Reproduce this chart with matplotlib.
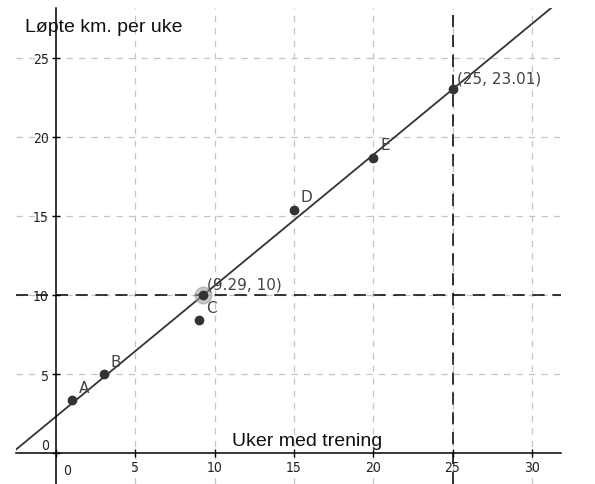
import matplotlib
matplotlib.use("Agg")
import matplotlib.pyplot as plt
import numpy as np

# measured points
pt_names = ["A", "B", "C", "D", "E"]
pt_x = [1, 3, 9, 15, 20]
pt_y = [3.35, 5.0, 8.4, 15.4, 18.7]

# regression line through (9.29, 10) and (25, 23.01)
line_x = [9.29, 25]
line_y = [10, 23.01]
special_labels = ["(9.29, 10)", "(25, 23.01)"]

x_ticks = [0, 5, 10, 15, 20, 25, 30]
y_ticks = [0, 5, 10, 15, 20, 25]

xlim = (-2.52, 31.84)
ylim = (-1.96, 28.16)

W, H = 595, 485
fig = plt.figure(figsize=(W / 100, H / 100), dpi=100)
ax = fig.add_axes([16 / W, 0, (561 - 16) / W, (485 - 9) / H])
ax.set_xlim(*xlim)
ax.set_ylim(*ylim)

# grid
grid_kw = dict(color="#c4c4c4", lw=0.9, dashes=(5, 5), zorder=0)
for gx in x_ticks[1:]:
    ax.axvline(gx, **grid_kw)
for gy in y_ticks[1:]:
    ax.axhline(gy, **grid_kw)

# axes through origin
for side in ["top", "right"]:
    ax.spines[side].set_visible(False)
ax.spines["left"].set_position(("data", 0))
ax.spines["bottom"].set_position(("data", 0))
ax.spines["left"].set_linewidth(1.1)
ax.spines["bottom"].set_linewidth(1.1)
ax.set_xticks(x_ticks)
ax.set_yticks(y_ticks)
ax.set_xticklabels(["" if t == 0 else str(t) for t in x_ticks])
ax.set_yticklabels(["" if t == 0 else str(t) for t in y_ticks])
ax.tick_params(axis="both", direction="inout", length=6, width=1, labelsize=10,
               labelcolor="#222222", pad=2)
for lab in ax.get_xticklabels() + ax.get_yticklabels():
    lab.set_fontstretch("condensed")
tick_font = dict(fontsize=10, color="#222222", fontstretch="condensed")
ax.annotate("0", (0, 0), xytext=(8, -7), textcoords="offset points",
            ha="center", va="top", **tick_font)
ax.annotate("0", (0, 0), xytext=(-8, 1), textcoords="offset points",
            ha="center", va="bottom", **tick_font)

# axis titles
ax.annotate("Løpte km. per uke", (0, ylim[1]), xytext=(-22, -13), textcoords="offset points",
            ha="left", va="center", fontsize=14, family="Liberation Sans", color="#111111")
ax.annotate("Uker med trening", (11.1, 0), xytext=(0, 9), textcoords="offset points",
            ha="left", va="center", fontsize=14, family="Liberation Sans", color="#111111")

# reference lines
ax.axhline(line_y[0], color="black", lw=1.1, dashes=(8, 5), zorder=1)
ax.axvline(line_x[1], color="black", lw=1.1, dashes=(8, 5), zorder=1)

# fitted line
slope = (line_y[1] - line_y[0]) / (line_x[1] - line_x[0])
xs = np.array(xlim)
ax.plot(xs, line_y[0] + slope * (xs - line_x[0]), color="#333333", lw=1.3, zorder=2)

# measured points
ax.plot(pt_x, pt_y, "o", color="#333333", ms=6, zorder=3)
for n, x, y in zip(pt_names, pt_x, pt_y):
    ax.annotate(n, (x, y), xytext=(5, 6), textcoords="offset points",
                fontsize=11, color="#444444")

# special points
ax.plot(line_x[0], line_y[0], "o", color="#999999", ms=12, alpha=0.55, zorder=3)
ax.plot(line_x, line_y, "o", color="#333333", ms=6, zorder=4)
for lab, x, y in zip(special_labels, line_x, line_y):
    ax.annotate(lab, (x, y), xytext=(3, 5), textcoords="offset points",
                fontsize=11, color="#444444")

fig.savefig("out.png", dpi=100)
